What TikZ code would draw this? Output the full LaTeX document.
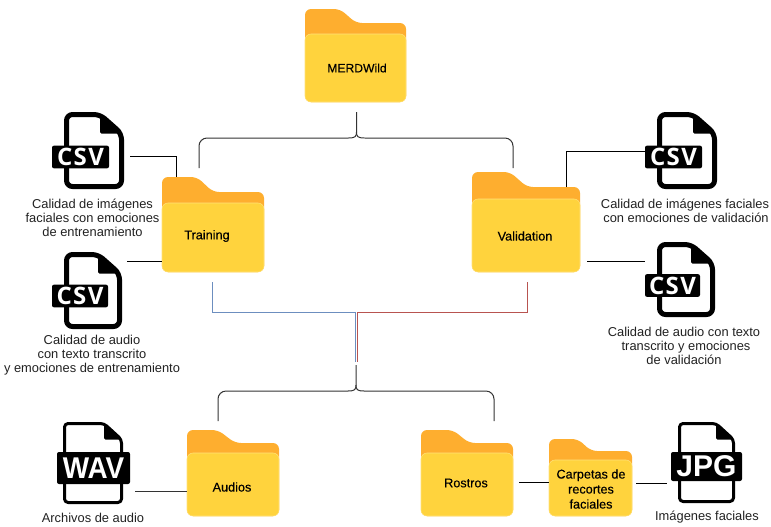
\documentclass[tikz,border=0pt]{standalone}
\usepackage{fontspec}
\setmainfont{Liberation Sans}
\newfontfamily\labelfont[FakeBold=0.25]{Liberation Sans}
\newfontfamily\iconfont[LetterSpace=6]{Open Sans}[BoldFont=* Bold]
\definecolor{folderback}{HTML}{FEAE2F}
\definecolor{folderfront}{HTML}{FFD33D}
\definecolor{folderedge}{HTML}{FFE27A}
\definecolor{wire}{HTML}{333333}
\definecolor{bluewire}{HTML}{6C8EBF}
\definecolor{redwire}{HTML}{B85450}
\definecolor{captiontext}{HTML}{222222}
\tikzset{
  x=0.75pt,y=-0.75pt,
  wireline/.style={draw=wire,line width=0.75pt},
  bracket/.style={wireline,rounded corners=6pt},
  caption/.style={inner sep=0pt,align=center,text=captiontext,font=\fontsize{9.65}{10.5}\selectfont},
  folderlabel/.style={inner sep=0pt,align=center,text=black,font=\labelfont\fontsize{9.5}{11.25}\selectfont},
  banner/.style={fill=black,rounded corners=1.5pt,inner sep=0pt,text=white},
  csvbanner/.style={banner,font=\iconfont\bfseries\fontsize{18}{18}\selectfont},
  bigbanner/.style={banner,font=\fontsize{22.5}{22.5}\selectfont\bfseries},
}
% x0, y0, x1, y1, tabend, slopeend, shoulder y, front y
\newcommand{\folderpic}[8]{%
  \fill[folderback,rounded corners=4.5pt] (#1,#4) -- (#1,#2) -- (#5,#2) -- (#6,#7) -- (#3,#7) -- (#3,#4) -- cycle;
  \path[fill=folderfront,draw=folderedge,line width=0.4pt,rounded corners=4.5pt] (#1,#8) rectangle (#3,#4);
}
% x0 y0 x1 y1 fold stroke(px)
\newcommand{\filebody}[6]{%
  \pgfmathsetmacro{\ss}{#6/2}
  \draw[black,fill=white,line width=#6*0.75pt,rounded corners=#6*0.9pt,line join=round]
    ({#1+\ss},{#2+\ss}) -- ({#3-#5},{#2+\ss}) -- ({#3-\ss},{#2+#5-\ss}) -- ({#3-\ss},{#4-\ss}) -- ({#1+\ss},{#4-\ss}) -- cycle;
  \fill[black,rounded corners=1pt] ({#3-#5},{#2+\ss}) -- ({#3-\ss},{#2+#5-\ss}) -- ({#3-#5},{#2+#5-\ss}) -- cycle;
}
\begin{document}
\begin{tikzpicture}
\useasboundingbox (0,0) rectangle (771,526);
\fill[white] (0,0) rectangle (771,526);

% folders
\folderpic{305}{9}{406}{102}{340}{356}{23}{34}
\node[folderlabel,font=\labelfont\fontsize{9.1}{11.25}\selectfont] (merd) at (357,68) {MERDWild};
\folderpic{162}{177}{264}{272}{197}{213}{192}{203}
\node[folderlabel] (training) at (207,236) {Training};
\folderpic{472}{172}{580}{272}{510}{527}{187}{199}
\node[folderlabel] (validation) at (525,236) {Validation};
\folderpic{187}{430}{279}{516}{218}{235}{443}{453}
\node[folderlabel] (audios) at (232,487) {Audios};
\folderpic{421}{430}{513}{516}{453}{469}{443}{453}
\node[folderlabel] (rostros) at (466,483) {Rostros};
\folderpic{549}{439}{632}{516}{578}{591}{451}{460}
\node[folderlabel] (carpetas) at (591,489) {Carpetas de\\recortes\\faciales};

% file icons
\filebody{64}{112}{124}{189}{24}{5}
\node[csvbanner,minimum width=42.75pt,minimum height=17pt] (csvA) at (80.5,157) {CSV};
\filebody{64}{252}{122}{329}{24}{5}
\node[csvbanner,minimum width=42pt,minimum height=17pt] (csvB) at (80,296) {CSV};
\filebody{657}{112}{717}{189}{24}{5}
\node[csvbanner,minimum width=42.75pt,minimum height=17pt] (csvC) at (673.5,157) {CSV};
\filebody{657}{242}{715}{317}{24}{5}
\node[csvbanner,minimum width=41.25pt,minimum height=17pt] (csvD) at (672.5,285.5) {CSV};
\filebody{63}{422}{123}{504}{19}{3}
\node[bigbanner,minimum width=54.75pt,minimum height=24pt] (wav) at (93.5,468) {\scalebox{0.93}[1]{WAV}};
\filebody{678}{422}{735}{503}{19}{3}
\node[bigbanner,minimum width=53.25pt,minimum height=21.75pt] (jpg) at (706.5,466.5) {JPG};

% captions
\node[caption] (capA) at (92.5,218) {Calidad de imágenes\\faciales con emociones\\de entrenamiento};
\node[caption] (capB) at (92,355) {Calidad de audio\\con texto transcrito\\y emociones de entrenamiento};
\node[caption] (capC) at (685,211) {Calidad de imágenes faciales\\\hspace*{1.5pt}con emociones de validación};
\node[caption] (capD) at (684,346) {Calidad de audio con texto\\\hspace*{3pt}transcrito y emociones\\de validación};
\node[caption] (capE) at (93,518) {Archivos de audio};
\node[caption] (capF) at (707,517) {Imágenes faciales};

% free ends of the connectors
\coordinate (topstem) at (356.5,112);
\coordinate (topjoin) at (356.5,138);
\coordinate (topL) at (199,168);
\coordinate (topR) at (513,168);
\coordinate (lowstem) at (356,365);
\coordinate (lowjoin) at (356,391);
\coordinate (lowL) at (218,421);
\coordinate (lowR) at (494,421);
\coordinate (blueS) at (212,282);
\coordinate (redS) at (527,282);
\coordinate (blueE) at (355.5,362);
\coordinate (redE) at (357,362);
\coordinate (busY) at (0,312);
\coordinate (aS) at (130,156.5);
\coordinate (aE) at (176.5,177);
\coordinate (bS) at (127,261.5);
\coordinate (bE) at (162,261.5);
\coordinate (cS) at (566.5,187);
\coordinate (cE) at (645,151.5);
\coordinate (dS) at (587,261.5);
\coordinate (dE) at (645,261.5);
\coordinate (eS) at (135,491.5);
\coordinate (eE) at (187,491.5);
\coordinate (fS) at (519,482);
\coordinate (fE) at (549,482);
\coordinate (gS) at (636,483);
\coordinate (gE) at (667,483);

% brackets
\draw[wireline] (topstem) -- ([yshift=4.5pt]topjoin) .. controls ([yshift=1pt]topjoin) and ([xshift=-1pt]topjoin) .. ([xshift=-6pt]topjoin);
\draw[wireline] ([yshift=4.5pt]topjoin) .. controls ([yshift=1pt]topjoin) and ([xshift=1pt]topjoin) .. ([xshift=6pt]topjoin);
\draw[bracket] ([xshift=-6pt]topjoin) -| (topL);
\draw[bracket] ([xshift=6pt]topjoin) -| (topR);
\draw[wireline] (lowstem) -- ([yshift=4.5pt]lowjoin) .. controls ([yshift=1pt]lowjoin) and ([xshift=-1pt]lowjoin) .. ([xshift=-6pt]lowjoin);
\draw[wireline] ([yshift=4.5pt]lowjoin) .. controls ([yshift=1pt]lowjoin) and ([xshift=1pt]lowjoin) .. ([xshift=6pt]lowjoin);
\draw[bracket] ([xshift=-6pt]lowjoin) -| (lowL);
\draw[bracket] ([xshift=6pt]lowjoin) -| (lowR);

% coloured bus
\draw[bluewire,line width=0.75pt] (blueS) |- (busY -| blueE) -- (blueE);
\draw[redwire,line width=0.75pt] (redS) |- (busY -| redE) -- (redE);

% leader lines
\draw[wireline,draw=black] (aS) -| (aE);
\draw[wireline,draw=black] (bS) -- (bE);
\draw[wireline,draw=black] (cS) |- (cE);
\draw[wireline,draw=black] (dS) -- (dE);
\draw[wireline] (eS) -- (eE);
\draw[wireline,draw=black] (fS) -- (fE);
\draw[wireline,draw=black] (gS) -- (gE);
\end{tikzpicture}
\end{document}
